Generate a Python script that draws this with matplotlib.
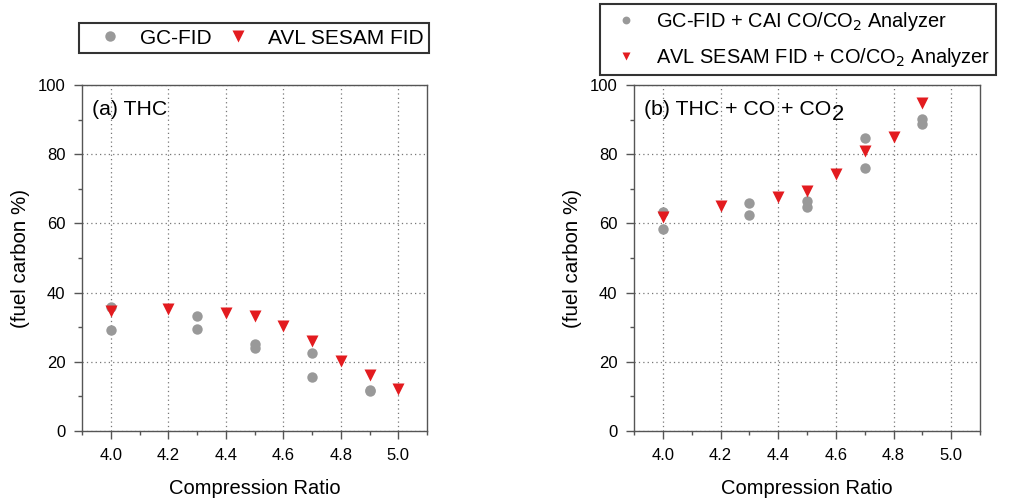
import matplotlib
matplotlib.use("Agg")
import matplotlib.pyplot as plt
from matplotlib.ticker import MultipleLocator, FormatStrFormatter

plt.rcParams['font.family'] = ['Liberation Sans', 'DejaVu Sans']

# (a) total hydrocarbons, fuel carbon %
thc_gc_cr = [4.0, 4.0, 4.3, 4.3, 4.5, 4.5, 4.7, 4.7, 4.9, 4.9]
thc_gc_val = [35.9, 29.2, 33.2, 29.6, 25.1, 24.1, 22.5, 15.7, 11.9, 11.5]
thc_avl_cr = [4.0, 4.2, 4.4, 4.5, 4.6, 4.7, 4.8, 4.9, 5.0]
thc_avl_val = [34.6, 35.4, 34.2, 33.2, 30.3, 26.0, 20.2, 16.1, 12.2]

# (b) THC + CO + CO2, fuel carbon %
tot_gc_cr = [4.0, 4.0, 4.3, 4.3, 4.5, 4.5, 4.7, 4.7, 4.9, 4.9]
tot_gc_val = [63.2, 58.4, 65.8, 62.4, 66.6, 64.8, 84.6, 76.1, 90.2, 88.7]
tot_avl_cr = [4.0, 4.2, 4.4, 4.5, 4.6, 4.7, 4.8, 4.9]
tot_avl_val = [61.9, 65.1, 67.5, 69.3, 74.2, 80.8, 84.9, 94.8]

GRAY = '#999999'
RED = '#E31B1F'
SPINE = '#555555'

fig = plt.figure(figsize=(10.18, 4.99), dpi=100)
ax_a = fig.add_axes([82 / 1018, 1 - 431 / 499, 345 / 1018, 346 / 499])
ax_b = fig.add_axes([634 / 1018, 1 - 431 / 499, 346 / 1018, 346 / 499])


def style(ax):
    ax.set_xlim(3.9, 5.1)
    ax.set_ylim(0, 100)
    ax.xaxis.set_major_locator(MultipleLocator(0.2))
    ax.xaxis.set_minor_locator(MultipleLocator(0.1))
    ax.yaxis.set_major_locator(MultipleLocator(20))
    ax.yaxis.set_minor_locator(MultipleLocator(10))
    ax.xaxis.set_major_formatter(FormatStrFormatter('%.1f'))
    ax.tick_params(which='major', direction='out', length=6, width=1,
                   color=SPINE, labelsize=12, pad=6)
    ax.tick_params(which='minor', direction='out', length=3, width=1,
                   color=SPINE)
    ax.tick_params(top=False, right=False, which='both')
    for s in ax.spines.values():
        s.set_color(SPINE)
        s.set_linewidth(1.0)
    ax.grid(True, which='major', linestyle=(0, (1, 2.5)), color='#777777',
            linewidth=0.9)
    ax.set_axisbelow(True)
    ax.set_xlabel('Compression Ratio', fontsize=14.5, labelpad=12)
    ax.set_ylabel('(fuel carbon %)', fontsize=14.8)
    ax.yaxis.set_label_coords(-0.15, 0.5)


style(ax_a)
style(ax_b)

ax_a.plot(thc_gc_cr, thc_gc_val, 'o', color=GRAY, ms=7.5, mec='none',
          label='GC-FID', zorder=3)
ax_a.plot(thc_avl_cr, thc_avl_val, 'v', color=RED, ms=8.5, mec='none',
          label='AVL SESAM FID', zorder=4)

ax_b.plot(tot_gc_cr, tot_gc_val, 'o', color=GRAY, ms=7.5, mec='none',
          label='GC-FID + CAI CO/CO$_2$ Analyzer', zorder=3)
ax_b.plot(tot_avl_cr, tot_avl_val, 'v', color=RED, ms=8.5, mec='none',
          label='AVL SESAM FID + CO/CO$_2$ Analyzer', zorder=4)

ax_a.text(0.03, 0.93, '(a) THC', transform=ax_a.transAxes, fontsize=15.3,
          va='center', ha='left')
t_b = ax_b.text(0.03, 0.93, '(b) THC + CO + CO', transform=ax_b.transAxes,
                fontsize=15.3, va='center', ha='left')
fig.canvas.draw()
bb = t_b.get_window_extent().transformed(ax_b.transAxes.inverted())
ax_b.text(bb.x1, 0.915, '2', transform=ax_b.transAxes, fontsize=15.8,
          va='center', ha='left')

leg_a = fig.legend(handles=ax_a.get_lines(), loc='center',
                   bbox_to_anchor=(254 / 1018, 1 - 38 / 499), ncol=2,
                   fontsize=15, frameon=True, fancybox=False,
                   edgecolor='black', handletextpad=0.25, columnspacing=0.05,
                   markerscale=1.0, borderpad=0.25, handlelength=2.4)
leg_a.get_frame().set_linewidth(1.5)

leg_b = fig.legend(handles=ax_b.get_lines(), loc='upper left',
                   bbox_to_anchor=(600 / 1018, 1 - 4 / 499), borderaxespad=0,
                   ncol=1, fontsize=14.4, frameon=True, fancybox=False,
                   edgecolor='black', handletextpad=0.5, markerscale=0.75,
                   borderpad=0.3, labelspacing=0.65, handlelength=2.0)
leg_b.get_frame().set_linewidth(1.5)

fig.savefig('out.png', dpi=100)
